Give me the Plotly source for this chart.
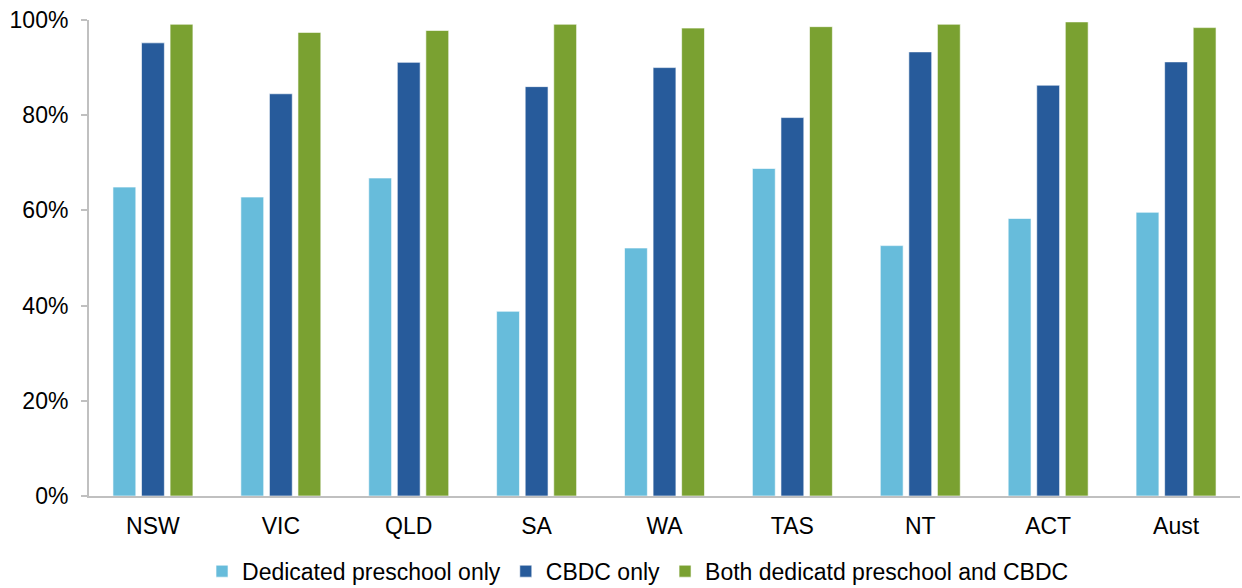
import plotly.graph_objects as go

regions = ["NSW", "VIC", "QLD", "SA", "WA", "TAS", "NT", "ACT", "Aust"]
dedicated_only = [64.9, 62.8, 66.8, 38.8, 52.1, 68.8, 52.6, 58.3, 59.6]
cbdc_only = [95.2, 84.5, 91.1, 86.0, 90.0, 79.5, 93.3, 86.3, 91.2]
both = [99.1, 97.4, 97.8, 99.1, 98.3, 98.6, 99.1, 99.6, 98.4]

series = [
    ("Dedicated preschool only", dedicated_only, "#67BCDB"),
    ("CBDC only", cbdc_only, "#275B9B"),
    ("Both dedicatd preschool and CBDC", both, "#7AA131"),
]

fig = go.Figure()
for name, vals, color in series:
    fig.add_trace(go.Bar(
        x=regions, y=vals, name=name,
        marker=dict(color=color, line=dict(color="rgba(255,255,255,0.6)", width=1)),
    ))

font = dict(family="Liberation Sans, Arial, sans-serif", size=23, color="#000000")

fig.update_layout(
    width=1242, height=588,
    margin=dict(l=89, r=2, t=20, b=92, autoexpand=False),
    paper_bgcolor="white", plot_bgcolor="white",
    barmode="group", bargap=0.33, bargroupgap=0.2,
    font=font,
    showlegend=True,
    legend=dict(
        orientation="h", xref="paper", x=0.477, xanchor="center",
        yref="paper", y=-0.158, yanchor="middle",
        font=font, itemwidth=30, traceorder="normal",
    ),
    xaxis=dict(
        showline=True, linecolor="#c0c0c0", linewidth=2,
        ticks="", tickfont=font, showgrid=False, ticklabelstandoff=8,
    ),
    yaxis=dict(
        range=[0, 100], tickvals=[0, 20, 40, 60, 80, 100],
        ticktext=["0%", "20%", "40%", "60%", "80%", "100%"],
        showline=True, linecolor="#c0c0c0", linewidth=2,
        ticks="outside", ticklen=6, tickcolor="#c0c0c0", tickwidth=2,
        showgrid=False, zeroline=False, tickfont=font, ticklabelstandoff=8,
    ),
)

fig.write_html("out.html")
